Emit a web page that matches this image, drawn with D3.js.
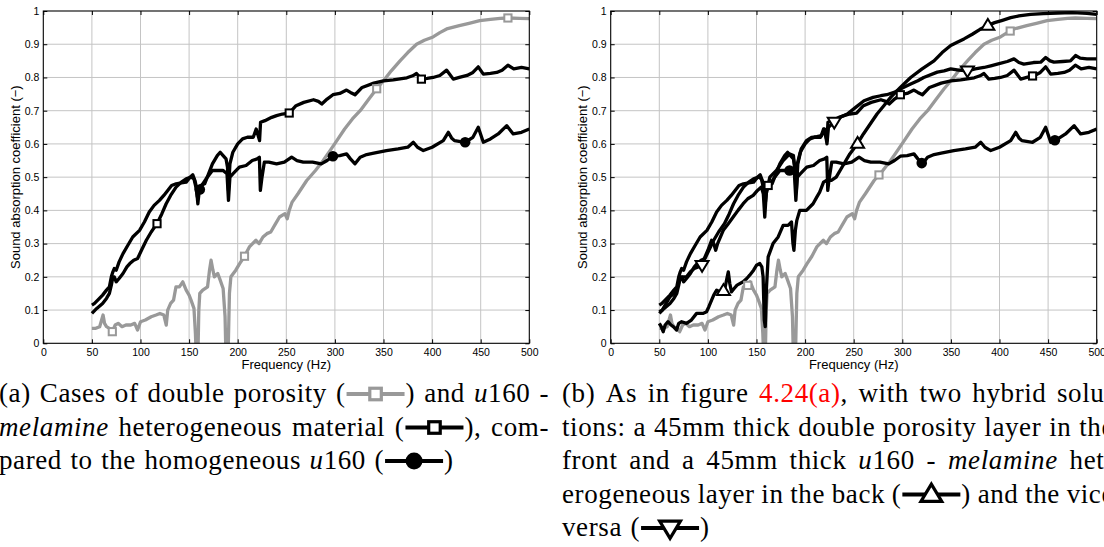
<!DOCTYPE html>
<html lang="en">
<head>
<meta charset="UTF-8">
<title>Sound absorption - double porosity vs hybrid</title>
<script src="https://d3js.org/d3.v7.min.js"></script>
<style>
    body { margin: 0; background: #fff; overflow: hidden; }
    svg { display: block; }
</style>
</head>
<body>
<svg width="1104" height="547"></svg>
<script>
// axis ticks
const freqTicks = [0, 50, 100, 150, 200, 250, 300, 350, 400, 450, 500];
const alphaTicks = [0, 0.1, 0.2, 0.3, 0.4, 0.5, 0.6, 0.7, 0.8, 0.9, 1];
const alphaTickLabels = ["0", "0.1", "0.2", "0.3", "0.4", "0.5", "0.6", "0.7", "0.8", "0.9", "1"];

// [frequency Hz, absorption coefficient]
// double porosity (grey, open squares)
const doublePorosity = [[50,0.045],[54,0.045],[58,0.05],[60,0.07],[61.5,0.085],[63,0.06],[65,0.05],[68,0.045],[71,0.035],[74,0.055],[77,0.06],[81,0.05],[85,0.055],[90,0.055],[94,0.06],[97,0.04],[100,0.065],[105,0.07],[111,0.08],[116,0.085],[120,0.09],[124,0.085],[126.5,0.055],[128,0.1],[131,0.12],[134,0.13],[136.5,0.17],[140,0.17],[143.5,0.185],[147,0.16],[150,0.145],[152,0.13],[155,0.105],[156.5,0.03],[157.5,-0.05],[159,-0.05],[160,0.1],[161,0.15],[164,0.16],[169,0.17],[171,0.22],[172.6,0.25],[174.5,0.22],[176,0.2],[179.5,0.21],[182,0.19],[185,0.165],[187,0.08],[188,-0.05],[190,-0.05],[191.5,0.15],[193,0.2],[198,0.22],[202,0.24],[207,0.262],[212,0.29],[218.8,0.31],[222,0.3],[226,0.32],[230,0.33],[234,0.335],[239,0.36],[243,0.38],[248.6,0.39],[251,0.375],[253,0.4],[256,0.425],[262,0.45],[271,0.49],[280,0.52],[288,0.55],[295,0.58],[302,0.61],[310,0.645],[318,0.675],[326,0.70],[335,0.735],[343,0.766],[350,0.79],[358,0.82],[367,0.85],[375,0.875],[384,0.9],[392,0.912],[401,0.922],[408,0.935],[415,0.946],[428,0.956],[438,0.963],[449,0.971],[460,0.975],[470,0.978],[478,0.979],[490,0.978],[500,0.977]];

// u160 - melamine heterogeneous material (black, open squares)
const heteroU160Mel = [[50,0.09],[55,0.105],[61,0.12],[65,0.135],[68,0.15],[70,0.175],[71.6,0.2],[73,0.2],[75,0.185],[78,0.195],[82,0.21],[86,0.23],[89,0.24],[93,0.25],[97,0.255],[101,0.28],[106,0.31],[111,0.335],[117,0.36],[122,0.39],[126.4,0.42],[131,0.445],[136.6,0.47],[142,0.485],[147,0.495],[152,0.5],[155,0.495],[157,0.47],[158.5,0.44],[160,0.465],[162,0.475],[166,0.48],[170,0.51],[174,0.54],[179,0.565],[182,0.575],[185,0.565],[188,0.555],[189.5,0.53],[190.5,0.46],[192,0.54],[195,0.575],[200,0.6],[205,0.615],[210,0.62],[216,0.62],[219,0.645],[221,0.625],[222.5,0.61],[223.5,0.665],[228,0.67],[235,0.68],[240,0.685],[246,0.69],[253,0.693],[260,0.715],[268,0.725],[278,0.733],[283,0.728],[286.5,0.72],[292,0.735],[298,0.748],[305,0.752],[312,0.762],[316,0.755],[320.7,0.748],[328,0.77],[340,0.783],[350,0.79],[360,0.793],[374,0.799],[380,0.805],[384,0.812],[389,0.795],[395,0.797],[401,0.80],[408,0.806],[415,0.822],[421.8,0.795],[428,0.8],[436,0.806],[442,0.815],[447.5,0.832],[452.7,0.81],[460,0.812],[466.5,0.815],[472,0.822],[478,0.837],[484,0.826],[492,0.83],[500,0.826]];

// homogeneous u160 (black, filled circles)
const homogU160 = [[50,0.115],[52.7,0.12],[56,0.13],[61,0.145],[65,0.16],[68,0.17],[70,0.2],[71.6,0.215],[73,0.225],[75,0.22],[78,0.245],[82,0.27],[87,0.295],[92,0.32],[99,0.34],[104,0.365],[109,0.395],[114,0.415],[119.5,0.43],[124,0.445],[128,0.46],[132,0.475],[136.6,0.48],[142,0.483],[147,0.485],[151,0.5],[153.8,0.507],[156,0.49],[157.5,0.47],[159,0.42],[160.5,0.46],[163,0.475],[167.5,0.495],[174,0.52],[180,0.52],[185,0.52],[189,0.51],[190.5,0.43],[192,0.5],[195,0.51],[201.7,0.53],[208.6,0.535],[215,0.55],[220,0.555],[222.3,0.56],[223.3,0.46],[225,0.5],[227.4,0.545],[232,0.545],[240,0.54],[248,0.545],[255.5,0.56],[261,0.55],[267.5,0.545],[277,0.545],[286,0.54],[292,0.55],[298,0.563],[305,0.565],[312,0.57],[316,0.555],[320.7,0.54],[326,0.56],[332.7,0.568],[340,0.572],[353,0.58],[365,0.585],[375,0.59],[380.7,0.605],[385,0.59],[391,0.58],[400,0.59],[411.5,0.61],[416.7,0.635],[420,0.618],[423,0.61],[434,0.605],[442,0.62],[447.5,0.65],[452.7,0.605],[460,0.615],[468,0.63],[476.8,0.655],[483.5,0.63],[492,0.635],[500,0.645]];

// hybrid: double porosity in front, u160 - melamine in the back (triangle up)
const hybridDpFront = [[50,0.06],[52,0.05],[54,0.035],[56,0.055],[59,0.065],[62,0.055],[64.4,0.05],[67.8,0.04],[70,0.06],[73,0.065],[78,0.06],[83,0.07],[88.4,0.09],[92,0.09],[95.2,0.09],[98.6,0.095],[101,0.11],[103.8,0.13],[106,0.145],[109,0.16],[112,0.155],[114,0.15],[117.5,0.165],[119.5,0.195],[121,0.215],[122.5,0.18],[124.3,0.155],[127,0.165],[130,0.175],[136.3,0.185],[140,0.195],[143,0.205],[147,0.22],[150,0.235],[153.4,0.24],[155.5,0.23],[156.8,0.2],[158,0.07],[159,0.05],[160.3,0.17],[162,0.26],[167,0.3],[172.3,0.32],[177.4,0.355],[182.5,0.355],[186,0.365],[187.5,0.3],[188.5,0.28],[190,0.34],[191.5,0.37],[194.5,0.4],[201.4,0.4],[208.2,0.42],[212,0.44],[215,0.455],[219,0.485],[222,0.49],[227,0.49],[232,0.5],[239,0.535],[246,0.57],[253.7,0.6],[260,0.63],[267,0.66],[274,0.69],[281,0.715],[288,0.74],[298,0.77],[308.6,0.8],[320,0.825],[332.6,0.85],[341,0.875],[349.8,0.896],[356,0.905],[363.5,0.916],[372,0.93],[380,0.945],[387.5,0.956],[395,0.965],[403,0.972],[411.5,0.98],[420,0.985],[432,0.99],[445,0.992],[459.5,0.994],[475,0.995],[490,0.993],[500,0.99]];

// hybrid: u160 - melamine in front, double porosity in the back (triangle down)
const hybridMelFront = [[50,0.095],[53,0.1],[57,0.12],[61,0.14],[65,0.15],[68,0.165],[71,0.19],[74,0.2],[78,0.2],[82,0.215],[86,0.225],[90,0.23],[94,0.235],[97,0.26],[100,0.28],[103.8,0.31],[106,0.3],[108,0.28],[110,0.3],[115.8,0.34],[121,0.36],[126,0.38],[131,0.4],[136.3,0.42],[141,0.435],[146.6,0.445],[151,0.46],[155,0.47],[157,0.45],[158.5,0.38],[160,0.45],[163.7,0.5],[170.5,0.52],[177.4,0.55],[184.2,0.57],[188,0.565],[189.5,0.52],[191,0.46],[192.5,0.54],[196,0.585],[201.4,0.61],[207,0.62],[212,0.622],[217,0.625],[220,0.645],[221.5,0.62],[222.5,0.6],[224,0.65],[229.7,0.665],[236,0.68],[243.4,0.69],[252,0.71],[260.6,0.73],[270,0.74],[277.8,0.745],[284,0.748],[291.5,0.755],[300,0.768],[308.6,0.78],[316,0.79],[322,0.8],[336,0.816],[343,0.82],[349.8,0.826],[358,0.822],[366.9,0.82],[375,0.826],[384,0.83],[391,0.835],[397.7,0.84],[408,0.848],[414.9,0.856],[420,0.845],[425,0.84],[435,0.845],[442.4,0.846],[447.5,0.86],[452,0.85],[456,0.846],[465,0.848],[473,0.85],[478.2,0.866],[483,0.858],[490,0.856],[500,0.856]];

// frequencies where the markers sit
const marksA = { dp: [71, 207, 343, 478], het: [117, 253, 389], hom: [161, 298, 434] };
const marksB = { tdn: [94, 230, 367], tup: [116, 254, 388], dp: [141, 276, 411], het: [162, 298, 434], hom: [184, 320, 457] };

const captionA = [
    "(a) Cases of double porosity ([dp]) and *u*160 -",
    "*melamine* heterogeneous material ([het]), com-",
    "pared to the homogeneous *u*160 ([hom])"
];
const captionB = [
    "(b) As in figure {4.24(a)}, with two hybrid solu-",
    "tions: a 45mm thick double porosity layer in the",
    "front and a 45mm thick *u*160 - *melamine* het-",
    "erogeneous layer in the back ([tup]) and the vice",
    "versa ([tdn])"
];

const grey = "#999999";
const svg = d3.select("svg");
const seriesData = { dp: doublePorosity, het: heteroU160Mel, hom: homogU160, tup: hybridDpFront, tdn: hybridMelFront };

function valueAt(data, f) {
    let i = d3.bisector(d => d[0]).left(data, f);
    if (i <= 0) return data[0][1];
    if (i >= data.length) return data[data.length - 1][1];
    let a = data[i - 1], b = data[i];
    return a[1] + (b[1] - a[1]) * (f - a[0]) / (b[0] - a[0]);
}

function drawMarker(g, kind, cx, cy, k) {
    let col = kind === "dp" ? grey : "#000";
    if (kind === "dp" || kind === "het") {
        g.append("rect")
            .attr("x", cx - 3.6 * k).attr("y", cy - 3.6 * k)
            .attr("width", 7.2 * k).attr("height", 7.2 * k)
            .attr("fill", "#fff").attr("stroke", col).attr("stroke-width", 2 * k);
    } else if (kind === "hom") {
        g.append("circle").attr("cx", cx).attr("cy", cy).attr("r", 5.3 * k).attr("fill", "#000");
    } else {
        let s = kind === "tup" ? 1 : -1;
        g.append("path")
            .attr("d", `M${cx - 6.5 * k},${cy + 4.3 * s * k}L${cx + 6.5 * k},${cy + 4.3 * s * k}L${cx},${cy - 6.5 * s * k}Z`)
            .attr("fill", "#fff").attr("stroke", "#000").attr("stroke-width", 2 * k)
            .attr("stroke-linejoin", "miter");
    }
}

function drawPanel(id, left, keys, marks) {
    let x = d3.scaleLinear().domain([0, 500]).range([left, left + 486]);
    let y = d3.scaleLinear().domain([0, 1]).range([343.3, 11]);
    let g = svg.append("g");

    g.append("clipPath").attr("id", id)
        .append("rect").attr("x", x(0)).attr("y", y(1)).attr("width", x(500) - x(0)).attr("height", y(0) - y(1));

    // grid
    g.append("g").selectAll("line").data(freqTicks.slice(1, -1)).join("line")
        .attr("x1", d => x(d)).attr("x2", d => x(d)).attr("y1", y(0)).attr("y2", y(1))
        .attr("stroke", "#c4c4c4").attr("stroke-width", 1);
    g.append("g").selectAll("line").data(alphaTicks.slice(1, -1)).join("line")
        .attr("y1", d => y(d)).attr("y2", d => y(d)).attr("x1", x(0)).attr("x2", x(500))
        .attr("stroke", "#c4c4c4").attr("stroke-width", 1);

    // curves
    let line = d3.line().x(d => x(d[0])).y(d => y(d[1]));
    let curves = g.append("g").attr("clip-path", `url(#${id})`);
    keys.forEach(k => {
        curves.append("path").datum(seriesData[k])
            .attr("d", line)
            .attr("fill", "none")
            .attr("stroke", k === "dp" ? grey : "#000")
            .attr("stroke-width", 3.3)
            .attr("stroke-linejoin", "round");
    });
    keys.forEach(k => {
        (marks[k] || []).forEach(f => drawMarker(curves, k, x(f), y(valueAt(seriesData[k], f)), 1));
    });

    // axes, ticks pointing inwards on all four sides
    let font = "'Liberation Sans', Arial, Helvetica, sans-serif";
    let bottom = g.append("g").attr("transform", `translate(0,${y(0)})`)
        .call(d3.axisBottom(x).tickValues(freqTicks).tickSize(-4).tickSizeOuter(0).tickPadding(5.5));
    let leftAx = g.append("g").attr("transform", `translate(${x(0)},0)`)
        .call(d3.axisLeft(y).tickValues(alphaTicks).tickFormat((d, i) => alphaTickLabels[i]).tickSize(-4).tickSizeOuter(0).tickPadding(4));
    let top = g.append("g").attr("transform", `translate(0,${y(1)})`)
        .call(d3.axisTop(x).tickValues(freqTicks).tickFormat("").tickSize(-4).tickSizeOuter(0));
    let right = g.append("g").attr("transform", `translate(${x(500)},0)`)
        .call(d3.axisRight(y).tickValues(alphaTicks).tickFormat("").tickSize(-4).tickSizeOuter(0));
    [bottom, leftAx, top, right].forEach(a => {
        a.select(".domain").remove();
        a.attr("font-family", font).attr("font-size", 10.5);
    });

    g.append("rect").attr("x", x(0)).attr("y", y(1))
        .attr("width", x(500) - x(0)).attr("height", y(0) - y(1))
        .attr("fill", "none").attr("stroke", "#000").attr("stroke-width", 1.1);

    g.append("text").attr("x", (x(0) + x(500)) / 2).attr("y", 368.5)
        .attr("text-anchor", "middle").attr("font-family", font).attr("font-size", 13)
        .text("Frequency (Hz)");
    g.append("text").attr("transform", `translate(${left - 23.5},${(y(0) + y(1)) / 2}) rotate(-90)`)
        .attr("text-anchor", "middle").attr("font-family", font).attr("font-size", 13)
        .text("Sound absorption coefficient (\u2212)");
}

drawPanel("clipA", 43.3, ["dp", "het", "hom"], marksA);
drawPanel("clipB", 610.7, ["dp", "het", "hom", "tup", "tdn"], marksB);

// captions, justified word by word like the LaTeX source
const capFont = "'Liberation Serif', 'Times New Roman', serif";
const capSize = 27;
const symW = 58;

function drawCaption(lines, left, width, firstBase, lineStep) {
    let g = svg.append("g").attr("font-family", capFont).attr("font-size", capSize);
    lines.forEach((str, li) => {
        let base = firstBase + li * lineStep;
        let words = str.split(" ").map(w => {
            let wg = g.append("g");
            let cx = 0;
            w.split(/(\*[^*]+\*|\{[^}]+\}|\[[a-z]+\])/).filter(p => p.length).forEach(p => {
                if (p[0] === "[") {
                    let kind = p.slice(1, -1);
                    let ly = base - 8;
                    wg.append("line").attr("x1", cx + 1).attr("x2", cx + 1 + symW)
                        .attr("y1", ly).attr("y2", ly)
                        .attr("stroke", kind === "dp" ? grey : "#000").attr("stroke-width", 4);
                    drawMarker(wg, kind, cx + 1 + symW / 2, ly, 1.6);
                    cx += symW + 2;
                } else {
                    let t = wg.append("text").attr("x", cx).attr("y", base).attr("letter-spacing", 0.6);
                    if (p[0] === "*") t.text(p.slice(1, -1)).attr("font-style", "italic");
                    else if (p[0] === "{") t.text(p.slice(1, -1)).attr("fill", "#f00");
                    else t.text(p);
                    cx += t.node().getComputedTextLength();
                }
            });
            return { g: wg, w: cx };
        });
        let last = li === lines.length - 1;
        let gap = last ? 8.5 : (width - d3.sum(words, d => d.w)) / (words.length - 1);
        let cx = left;
        words.forEach(d => { d.g.attr("transform", `translate(${cx},0)`); cx += d.w + gap; });
    });
}

drawCaption(captionA, -1, 550, 402, 33.5);
drawCaption(captionB, 562, 552, 402, 33.5);
</script>
</body>
</html>
